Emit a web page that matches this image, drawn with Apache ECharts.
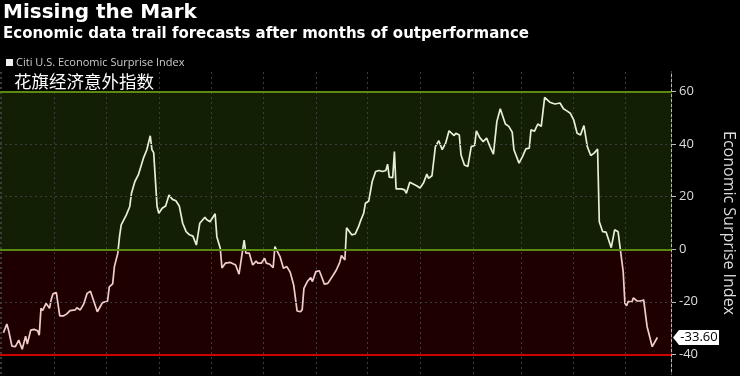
<!DOCTYPE html>
<html>
<head>
<meta charset="utf-8">
<script src="https://cdn.jsdelivr.net/npm/echarts@6/dist/echarts.min.js"></script>
<style>
    html, body { margin: 0; padding: 0; background: #000; }
    #main { width: 740px; height: 376px; }
</style>
</head>
<body>
<div id="main"></div>
<script>
// Citi U.S. Economic Surprise Index
// x = days after startDate, y = index value
const startDate = '2016-04-30';
const lastDay = 393;
const dayOffsets = [
    2, 4, 5, 7, 9, 11, 12, 13, 15, 16, 18, 19, 20, 22, 23, 24, 25, 27, 29, 30,
    31, 33, 35, 37, 39, 41, 44, 45, 47, 49, 51, 53, 54, 57, 59, 60, 63, 64, 66, 67,
    69, 70, 71, 74, 76, 77, 79, 81, 82, 84, 86, 88, 89, 90, 92, 93, 95, 97, 99, 101,
    103, 105, 107, 109, 111, 113, 115, 117, 118, 120, 121, 123, 126, 127, 129, 130, 132, 135, 138, 140,
    143, 144, 146, 148, 150, 151, 153, 155, 156, 158, 160, 161, 162, 164, 166, 168, 170, 172, 174, 176,
    177, 178, 180, 182, 183, 185, 187, 188, 190, 192, 195, 197, 199, 200, 202, 203, 204, 206, 208, 210,
    211, 213, 214, 216, 218, 220, 222, 224, 226, 227, 228, 230, 231, 232, 235, 237, 238, 240, 241, 244,
    246, 248, 250, 251, 253, 255, 256, 257, 259, 261, 263, 266, 267, 269, 270, 272, 274, 276, 278, 279,
    281, 283, 285, 287, 289, 291, 293, 294, 296, 298, 300, 301, 304, 306, 308, 310, 311, 313, 315, 317,
    319, 320, 322, 325, 326, 328, 330, 332, 334, 336, 338, 340, 342, 344, 346, 348, 350, 351, 353, 355,
    358, 360, 362, 363, 365, 366, 367, 368, 370, 371, 373, 375, 377, 379, 380, 382, 383, 385
];
const values = [
    -31.8, -28.5, -30.8, -36.9, -37.1, -34.6, -35.0, -38.1, -33.1, -36.1, -30.8, -31.5, -30.5, -31.0, -32.7, -22.5, -23.3, -20.6, -22.5, -19.1,
    -17.0, -16.5, -25.4, -25.4, -24.7, -23.4, -23.1, -22.3, -23.1, -20.9, -16.8, -16.0, -18.0, -23.8, -21.5, -20.3, -19.8, -14.3, -13.2, -6.6,
    -1.5, 4.8, 9.3, 13.1, 16.3, 21.3, 25.8, 28.3, 29.0, 34.7, 37.9, 43.2, 37.9, 36.8, 16.3, 13.7, 15.6, 16.5, 20.7, 19.0,
    18.5, 16.5, 9.9, 6.7, 5.5, 5.0, 1.6, 9.9, 10.2, 12.2, 11.3, 10.5, 13.5, 4.8, 0.4, -7.1, -5.3, -5.0, -6.0, -9.5,
    3.5, -1.5, -1.5, -6.0, -4.5, -5.3, -5.3, -3.4, -5.3, -5.7, -7.0, 1.0, 1.6, -2.8, -7.2, -6.6, -8.8, -13.6, -23.5, -23.8,
    -23.0, -14.9, -12.3, -10.8, -12.3, -8.5, -8.2, -9.8, -13.3, -13.0, -10.0, -7.9, -5.0, -2.4, -4.1, 8.2, 7.8, 5.5, 5.8, 8.6,
    10.5, 13.7, 17.5, 18.4, 25.8, 29.6, 30.0, 29.6, 30.0, 32.4, 27.5, 27.3, 37.2, 23.0, 23.0, 22.6, 21.3, 25.5, 24.8, 24.2,
    23.3, 25.2, 28.6, 27.0, 28.0, 39.1, 39.7, 41.3, 37.9, 40.4, 45.1, 43.3, 44.2, 43.5, 36.0, 32.1, 31.5, 39.1, 39.5, 45.1,
    42.5, 41.0, 42.3, 39.1, 36.2, 48.6, 53.5, 52.9, 47.7, 46.8, 44.6, 37.9, 32.8, 35.3, 38.2, 38.5, 45.5, 44.9, 47.7, 46.8,
    57.8, 57.3, 56.0, 55.3, 54.8, 55.7, 53.5, 52.7, 51.8, 49.3, 44.2, 43.5, 47.1, 39.1, 35.7, 36.6, 38.2, 10.5, 6.7, 6.5,
    0.6, 7.4, 6.7, 1.6, -8.5, -20.6, -21.5, -19.8, -20.2, -18.5, -19.7, -19.7, -19.3, -29.5, -32.0, -37.1, -37.7, -33.6
];
const yTicks = [-40, -20, 0, 20, 40, 60];
const dottedLevels = [-20, 20, 40];
const seriesName = 'Citi U.S. Economic Surprise Index';

const DAY = 86400000;
const t0 = new Date(startDate + 'T00:00:00').getTime();
const tEnd = t0 + lastDay * DAY;
const data = dayOffsets.map((d, i) => [t0 + d * DAY, values[i]]);
const lastValue = values[values.length - 1];

// line is pale green above zero, pale pink below: split the gradient at zero
const vMax = Math.max(...values), vMin = Math.min(...values);
const zeroAt = vMax / (vMax - vMin);
const lineColor = new echarts.graphic.LinearGradient(0, 0, 0, 1, [
    { offset: 0, color: '#e6eed6' },
    { offset: zeroAt, color: '#e6eed6' },
    { offset: zeroAt, color: '#f2cccc' },
    { offset: 1, color: '#f2cccc' }
]);

const gridDot = { color: '#3c3c3c', width: 1, type: [2, 3] };

let myChart = echarts.init(document.getElementById('main'));

let option = {
    backgroundColor: '#000',
    animation: false,
    title: [
        {
            text: 'Missing the Mark',
            left: 3, top: 3, padding: 0,
            textStyle: { color: '#fff', fontSize: 20, fontWeight: 'bold', fontFamily: 'DejaVu Sans' }
        },
        {
            text: 'Economic data trail forecasts after months of outperformance',
            left: 3, top: 27, padding: 0,
            textStyle: { color: '#fff', fontSize: 15, fontWeight: 'bold', fontFamily: 'DejaVu Sans' }
        },
        {
            text: '花旗经济意外指数',
            left: 14, top: 73, padding: 0,
            textStyle: { color: '#fff', fontSize: 17.5, fontWeight: 'normal', fontFamily: 'Noto Sans CJK SC' }
        }
    ],
    legend: {
        data: [seriesName],
        left: 6, top: 57, padding: 0,
        icon: 'rect', itemWidth: 7, itemHeight: 7, itemGap: 5,
        itemStyle: { color: '#eee' },
        lineStyle: { color: '#eee' },
        textStyle: { color: '#ccc', fontSize: 11, fontFamily: 'Open Sans', padding: [0, 0, 0, -2] }
    },
    grid: { left: 0, right: 69, top: 72, bottom: 2, containLabel: false, outerBoundsMode: 'none' },
    xAxis: {
        type: 'time',
        z: 3,
        min: t0, max: tEnd,
        splitNumber: 12,
        minInterval: 28 * DAY,
        maxInterval: 31 * DAY,
        axisLine: { show: true, lineStyle: { color: '#555' } },
        axisTick: { show: false },
        axisLabel: { show: false },
        splitLine: { show: true, lineStyle: gridDot }
    },
    yAxis: {
        type: 'value',
        position: 'right',
        min: -47.5, max: 67.5,
        name: 'Economic Surprise Index',
        nameLocation: 'middle',
        nameRotate: -90,
        nameGap: 50,
        nameTextStyle: { color: '#ddd', fontSize: 16, fontFamily: 'Open Sans' },
        axisLine: { show: true, lineStyle: { color: '#bbb' } },
        axisTick: { show: true, length: 5, customValues: yTicks, lineStyle: { color: '#bbb' } },
        axisLabel: { customValues: yTicks, color: '#ddd', fontSize: 13, fontFamily: 'Open Sans', margin: 8 },
        splitLine: { show: false }
    },
    series: [
        {
            name: seriesName,
            type: 'line',
            data: data,
            symbol: 'none',
            lineStyle: { width: 1.7, color: lineColor },
            itemStyle: { color: '#eee' },
            markArea: {
                silent: true,
                data: [
                    [{ yAxis: 60, itemStyle: { color: '#131f04' } }, { yAxis: 0 }],
                    [{ yAxis: 0, itemStyle: { color: '#1f0000' } }, { yAxis: -40 }]
                ]
            },
            markLine: {
                silent: true,
                symbol: 'none',
                label: { show: false },
                data: dottedLevels.map(v => ({ yAxis: v, lineStyle: gridDot })).concat([
                    { yAxis: 60, lineStyle: { color: '#5a8a14', width: 2, type: 'solid' } },
                    { yAxis: 0, lineStyle: { color: '#5a8a14', width: 2, type: 'solid' } },
                    { yAxis: -40, lineStyle: { color: '#c80000', width: 2, type: 'solid' } }
                ])
            },
            markPoint: {
                silent: true,
                symbol: 'path://M0,7 L6,0 L46,0 L46,14 L6,14 Z',
                symbolSize: [46, 15],
                symbolKeepAspect: false,
                symbolOffset: [25, 0],
                itemStyle: { color: '#fff' },
                label: {
                    show: true,
                    color: '#000',
                    fontSize: 13,
                    fontFamily: 'Open Sans',
                    offset: [3, 0],
                    formatter: p => p.value.toFixed(2)
                },
                data: [{ coord: [tEnd, lastValue], value: lastValue }]
            }
        }
    ]
};

myChart.setOption(option);
</script>
</body>
</html>
